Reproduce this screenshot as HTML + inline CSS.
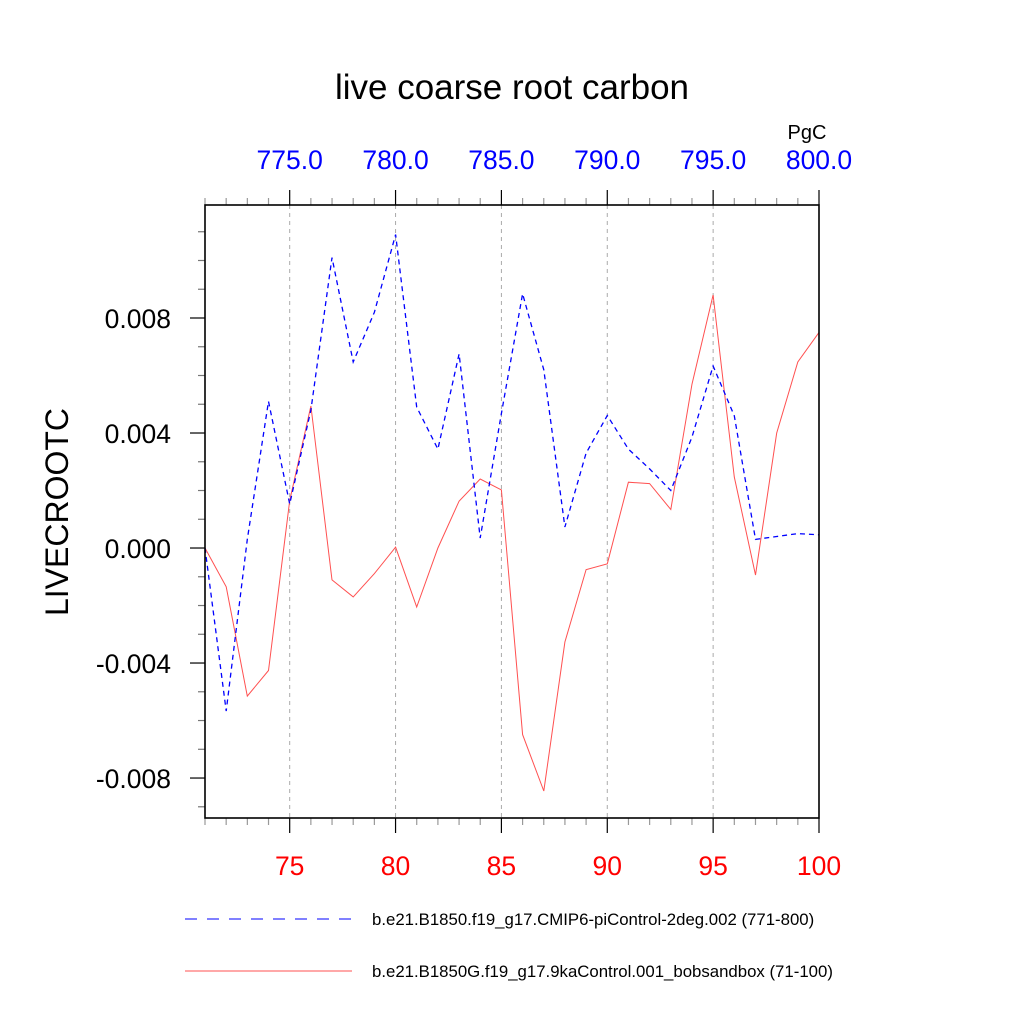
<!DOCTYPE html>
<html><head><meta charset="utf-8"><style>
html,body{margin:0;padding:0;background:#fff;}
svg{display:block;font-family:"Liberation Sans",sans-serif;}
</style></head><body>
<svg id="chart" width="1024" height="1024" viewBox="0 0 1024 1024">
<rect width="1024" height="1024" fill="#fff"/>
<text x="512" y="99" font-size="35" text-anchor="middle">live coarse root carbon</text>
<text x="807" y="139" font-size="20" text-anchor="middle">PgC</text>
<text transform="translate(68,512) rotate(-90)" font-size="32" text-anchor="middle">LIVECROOTC</text>
<g id="grid"></g>
<g id="ticks"></g>
<g id="series"></g>
<rect x="205" y="205" width="614" height="613" fill="none" stroke="#000" stroke-width="1.6"/>
<g>
<line x1="185" y1="919" x2="352" y2="919" stroke="#00f" stroke-width="1" stroke-dasharray="12,10"/>
<text x="372" y="925" font-size="16.8">b.e21.B1850.f19_g17.CMIP6-piControl-2deg.002 (771-800)</text>
<line x1="185" y1="971" x2="352" y2="971" stroke="#ff5050" stroke-width="1"/>
<text x="372" y="977" font-size="16.8">b.e21.B1850G.f19_g17.9kaControl.001_bobsandbox (71-100)</text>
</g>
</svg>
<script>
const years = [71,72,73,74,75,76,77,78,79,80,81,82,83,84,85,86,87,88,89,90,91,92,93,94,95,96,97,98,99,100];
const bluePi = [0,-0.00567,0.0003,0.0051,0.00153,0.0048,0.0101,0.00647,0.0082,0.0109,0.0049,0.00344,0.00675,0.00035,0.00468,0.00884,0.0062,0.00073,0.0033,0.00461,0.00344,0.00275,0.002,0.00386,0.00633,0.0046,0.0003,0.0004,0.0005,0.00046];
const red9ka = [0,-0.00135,-0.00515,-0.00426,0.00165,0.00494,-0.00111,-0.0017,-0.00089,0.00003,-0.00205,0,0.00163,0.0024,0.00202,-0.00649,-0.00845,-0.00327,-0.00075,-0.00055,0.00229,0.00224,0.00134,0.0057,0.0088,0.00247,-0.00094,0.004,0.00647,0.0075];
const bottomTicks = [75,80,85,90,95,100];
const topTickLabels = ["775.0","780.0","785.0","790.0","795.0","800.0"];
const yTicks = [-0.008,-0.004,0,0.004,0.008];
const yTickLabels = ["-0.008","-0.004","0.000","0.004","0.008"];
const xMin=71,xMax=100,yMin=-0.00939,yMax=0.01193;
const L=205,R=819,T=205,B=818;
function sx(v){return L+(v-xMin)/(xMax-xMin)*(R-L);}
function sy(v){return B-(v-yMin)/(yMax-yMin)*(B-T);}
const NS="http://www.w3.org/2000/svg";
function mk(tag,attrs,parent){const e=document.createElementNS(NS,tag);for(const k in attrs)e.setAttribute(k,attrs[k]);parent.appendChild(e);return e;}
const grid=document.getElementById('grid'),ticks=document.getElementById('ticks'),series=document.getElementById('series');
for(let y=xMin;y<=xMax;y++){
  const x=sx(y),maj=bottomTicks.includes(y);
  const len=maj?15:7,col=maj?'#000':'#999';
  const t1=mk('line',{x1:x,y1:B,x2:x,y2:B+len,stroke:col,'stroke-width':1.2},ticks);
  
  
  const t2=mk('line',{x1:x,y1:T,x2:x,y2:T-len,stroke:col,'stroke-width':1.2},ticks);
  
  
}
bottomTicks.forEach((v,i)=>{
  const x=sx(v);
  if(v<xMax){
    const g=mk('line',{x1:x,y1:T,x2:x,y2:B,stroke:'#aaa','stroke-width':1,'stroke-dasharray':'4,4'},grid);
    
    
  }
  const tb=mk('text',{x:x,y:875,'font-size':26.5,fill:'#f00','text-anchor':'middle'},ticks);
  tb.textContent=v;
  
  
  const tt=mk('text',{x:x,y:169,'font-size':26.5,fill:'#00f','text-anchor':'middle'},ticks);
  tt.textContent=topTickLabels[i];
  
  
});
for(let k=-9;k<=11;k++){
  const v=k*0.001,y=sy(v),maj=(k%4===0);
  const t=mk('line',{x1:L,y1:y,x2:L-(maj?15:7),y2:y,stroke:maj?'#000':'#777','stroke-width':1.2},ticks);
  
  
}
yTicks.forEach((v,i)=>{
  const t=mk('text',{x:171,y:sy(v)+10,'font-size':26.5,'text-anchor':'end'},ticks);
  t.textContent=yTickLabels[i];
  
  
});
function pts(arr){return arr.map((v,i)=>sx(years[i]).toFixed(1)+','+sy(v).toFixed(1)).join(' ');}
const pr=mk('polyline',{points:pts(red9ka),fill:'none',stroke:'#ff5050','stroke-width':1,'stroke-linejoin':'miter'},series);


const pb=mk('polyline',{points:pts(bluePi),fill:'none',stroke:'#00f','stroke-width':1.3,'stroke-dasharray':'5,4'},series);


</script>
</body></html>
